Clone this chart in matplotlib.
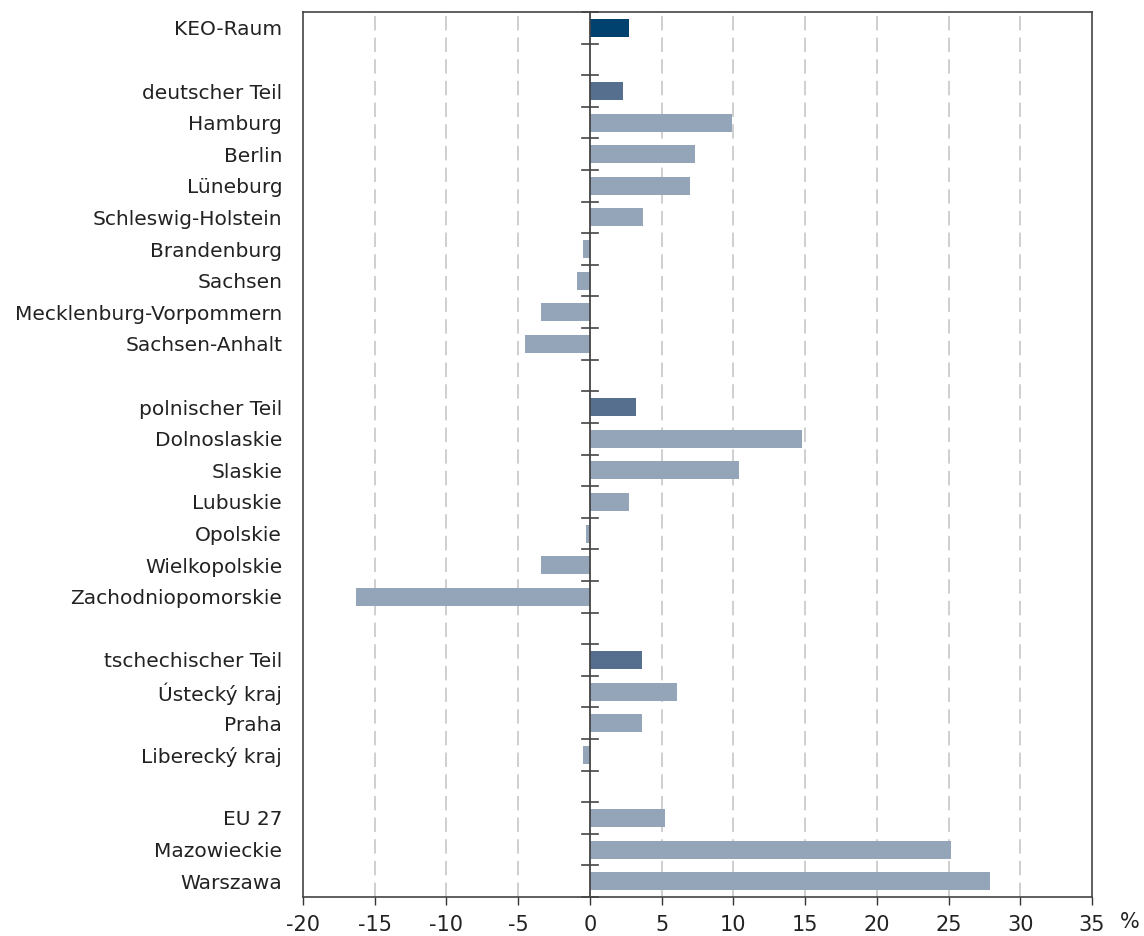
import matplotlib
matplotlib.use("Agg")
import matplotlib.pyplot as plt
import numpy as np

# data, top to bottom; None marks an empty row between groups
labels = ["KEO-Raum", None,
          "deutscher Teil", "Hamburg", "Berlin", "Lüneburg", "Schleswig-Holstein",
          "Brandenburg", "Sachsen", "Mecklenburg-Vorpommern", "Sachsen-Anhalt", None,
          "polnischer Teil", "Dolnoslaskie", "Slaskie", "Lubuskie", "Opolskie",
          "Wielkopolskie", "Zachodniopomorskie", None,
          "tschechischer Teil", "Ústecký kraj", "Praha", "Liberecký kraj", None,
          "EU 27", "Mazowieckie", "Warszawa"]
values = [2.7, None,
          2.3, 9.9, 7.3, 7.0, 3.7, -0.5, -0.9, -3.4, -4.5, None,
          3.2, 14.8, 10.4, 2.7, -0.3, -3.4, -16.3, None,
          3.6, 6.1, 3.6, -0.5, None,
          5.2, 25.2, 27.9]
totals = ["deutscher Teil", "polnischer Teil", "tschechischer Teil"]

c_keo = "#00426f"
c_total = "#566f8f"
c_other = "#94a5ba"

plt.rcParams['font.family'] = ['DejaVu Sans']

fig = plt.figure(figsize=(11.44, 9.36), dpi=100)
ax = fig.add_axes([303/1144, 1-897/936, (1092-303)/1144, (897-12)/936])

n = len(labels)
ypos = np.arange(n)
for y, lab, v in zip(ypos, labels, values):
    if lab is None:
        continue
    if lab == "KEO-Raum":
        col = c_keo
    elif lab in totals:
        col = c_total
    else:
        col = c_other
    ax.barh(y, v, height=0.57, color=col, zorder=3)

ax.set_ylim(n - 0.5, -0.5)
ax.set_xlim(-20, 35)
ax.set_yticks([y for y, l in zip(ypos, labels) if l is not None])
ax.set_yticklabels([l for l in labels if l is not None], fontsize=14.5, color="#222222")
ax.tick_params(axis='y', length=0, pad=15)

ax.set_xticks(np.arange(-20, 36, 5))
ax.set_xticklabels([str(t) for t in range(-20, 36, 5)], fontsize=15, color="#222222")
ax.tick_params(axis='x', direction='out', length=6, width=1, color="#333333", pad=7)

for x in range(-15, 35, 5):
    if x == 0:
        continue
    ax.axvline(x, color="#cccccc", linewidth=1.3, linestyle=(0, (8, 4)), zorder=1)

# zero line with small cross ticks at the row boundaries
ax.axvline(0, color="#444444", linewidth=1.3, zorder=4)
for b in np.arange(-0.5, n, 1.0):
    ax.plot([-0.55, 0.55], [b, b], color="#444444", linewidth=1.2, zorder=4, clip_on=False)

for s in ax.spines.values():
    s.set_color("#444444")
    s.set_linewidth(1.2)

fig.text(1130/1144, 1-922/936, "%", fontsize=15, color="#222222", ha="center", va="center")

fig.savefig("out.png", dpi=100)
